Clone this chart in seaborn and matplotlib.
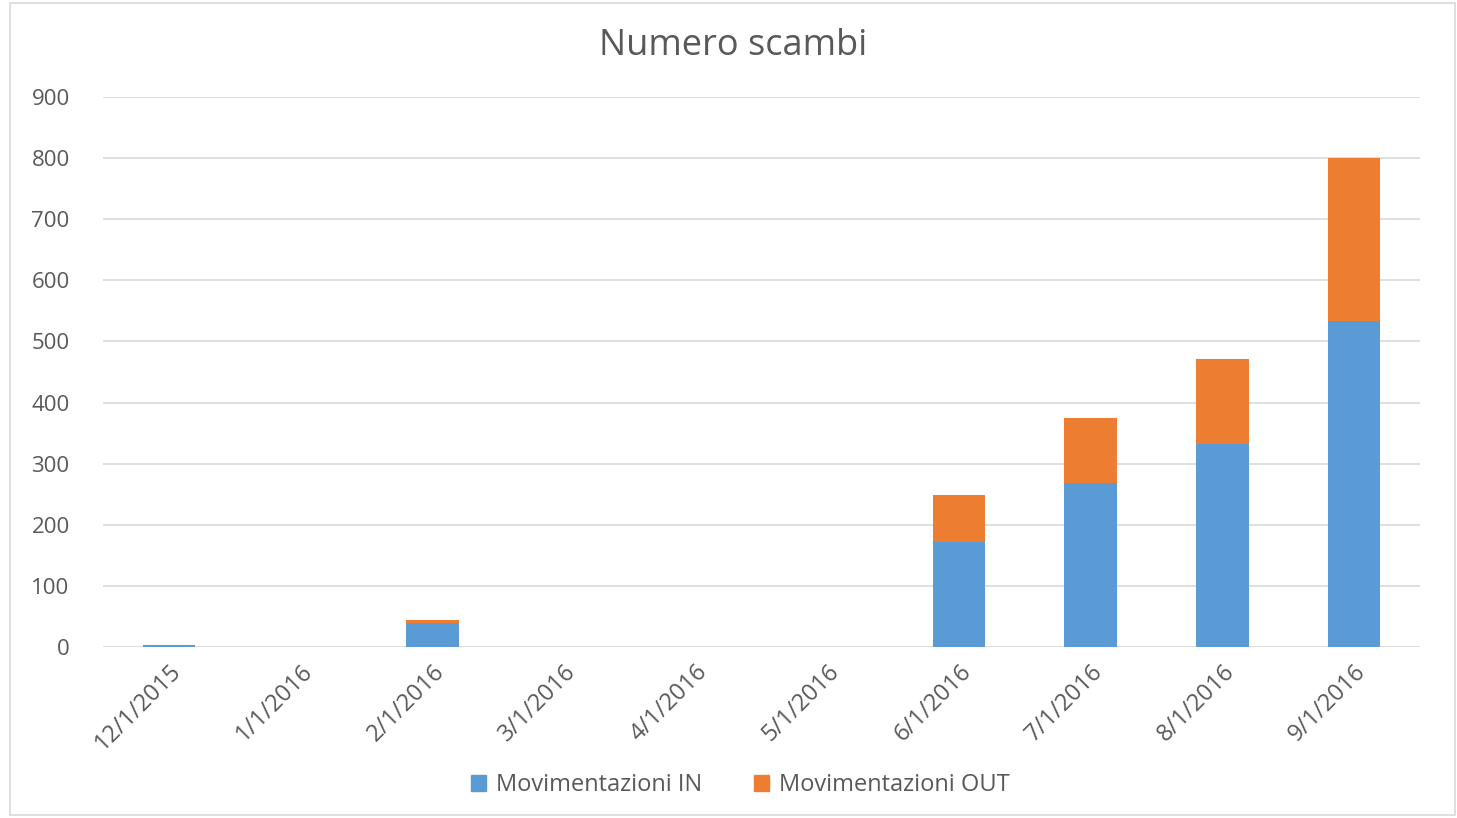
import pandas as pd
import numpy as np
import matplotlib
matplotlib.use("Agg")
import matplotlib.pyplot as plt
import matplotlib.patches as mpatches
import seaborn as sns

# values
mesi = ["12/1/2015", "1/1/2016", "2/1/2016", "3/1/2016", "4/1/2016",
        "5/1/2016", "6/1/2016", "7/1/2016", "8/1/2016", "9/1/2016"]
mov_in = [3, 0, 39, 0, 0, 0, 172, 269, 332, 534]
mov_out = [0, 0, 6, 0, 0, 0, 77, 106, 140, 266]

blu = "#5B9BD5"
arancio = "#ED7D31"
grigio = "#595959"

df = pd.DataFrame({"mese": mesi, "IN": mov_in, "OUT": mov_out})
df["totale"] = df["IN"] + df["OUT"]

sns.set_style("white")
plt.rcParams["font.family"] = ["Open Sans", "DejaVu Sans"]

fig = plt.figure(figsize=(14.57, 8.18), dpi=100)
ax = fig.add_axes([103 / 1457, 1 - 647 / 818, (1420 - 103) / 1457, (647 - 97) / 818])

# stacked bars: total in orange underneath, IN in blue on top of it
sns.barplot(data=df, x="mese", y="totale", color=arancio, width=0.4,
            saturation=1, linewidth=0, ax=ax)
sns.barplot(data=df, x="mese", y="IN", color=blu, width=0.4,
            saturation=1, linewidth=0, ax=ax)

ax.set_ylim(0, 900)
ax.set_xlim(-0.5, len(mesi) - 0.5)
ax.set_yticks(range(0, 901, 100))
ax.yaxis.grid(True, color="#D9D9D9", linewidth=1.2)
ax.set_axisbelow(True)
for s in ax.spines.values():
    s.set_visible(False)
ax.set_xlabel("")
ax.set_ylabel("")
ax.tick_params(axis="both", length=0, colors=grigio)
ax.tick_params(axis="y", pad=24, labelsize=16)
ax.tick_params(axis="x", pad=9, labelsize=17)
plt.setp(ax.get_xticklabels(), rotation=45, ha="right", rotation_mode="anchor")

fig.text(0.503, 1 - 46 / 818, "Numero scambi", ha="center", va="center",
         fontsize=26, color=grigio)

handles = [mpatches.Patch(color=blu, label="Movimentazioni IN"),
           mpatches.Patch(color=arancio, label="Movimentazioni OUT")]
fig.legend(handles=handles, loc="center", bbox_to_anchor=(0.508, 1 - 785 / 818),
           ncol=2, frameon=False, fontsize=17, labelcolor=grigio,
           handlelength=0.65, handleheight=0.65, handletextpad=0.4,
           columnspacing=2.2)

# light border around the chart area
fig.patches.append(mpatches.Rectangle((10 / 1457, 3 / 818), 1445 / 1457, 812 / 818,
                                      transform=fig.transFigure, fill=False,
                                      edgecolor="#D9D9D9", linewidth=1.2))

fig.savefig("out.png", dpi=100)
